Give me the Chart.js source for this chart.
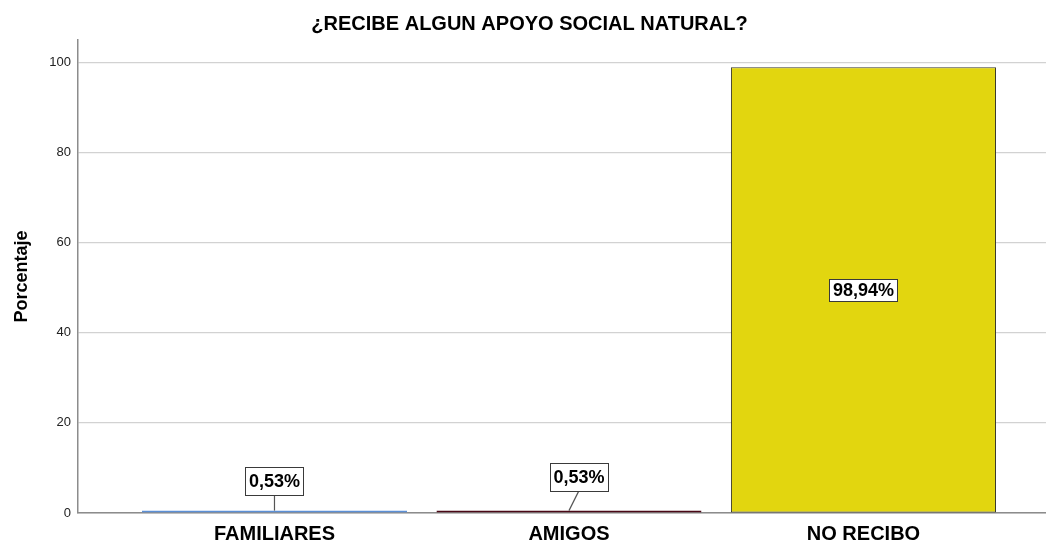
<!DOCTYPE html>
<html>
<head>
<meta charset="utf-8">
<script src="https://cdn.jsdelivr.net/npm/chart.js@4/dist/chart.umd.min.js"></script>
<style>
  html, body { margin: 0; padding: 0; background: #ffffff; }
  canvas { display: block; }
</style>
</head>
<body>
<canvas id="chart" width="1046" height="542"></canvas>
<script>
// Data
const CATEGORIES = ['FAMILIARES', 'AMIGOS', 'NO RECIBO'];
const PERCENTAGES = [0.53, 0.53, 98.94];
const Y_TICKS = [0, 20, 40, 60, 80, 100];
const TITLE = '¿RECIBE ALGUN APOYO SOCIAL NATURAL?';
const Y_TITLE = 'Porcentaje';

// Styling
const FONT = "'Liberation Sans', Arial, Helvetica, sans-serif";
const BAR_COLORS = ['#6399de', '#7a1027', '#e2d60f'];
const BAR_BORDERS = ['#5b8fd6', '#4a0816', '#3a3a2a'];

function formatPct(v) {
  return v.toFixed(2).replace('.', ',') + '%';
}

// Boxed value labels; bars too short to hold one get a label above with a leader line
const valueLabels = {
  id: 'valueLabels',
  afterDatasetsDraw(chart, args, opts) {
    const ctx = chart.ctx;
    const meta = chart.getDatasetMeta(0);
    const data = chart.data.datasets[0].data;
    ctx.save();
    ctx.font = 'bold 18px ' + FONT;
    ctx.textAlign = 'center';
    ctx.textBaseline = 'middle';
    meta.data.forEach((bar, i) => {
      const text = formatPct(data[i].y);
      const w = Math.round(ctx.measureText(text).width) + 7;
      const inside = (bar.base - bar.y) > 40;
      let cx, cy, h;
      if (inside) {
        cx = bar.x;
        cy = (bar.y + bar.base) / 2;
        h = 22;
      } else {
        const off = opts.offsets[i] || { dx: 0, dy: -30 };
        cx = bar.x + off.dx;
        cy = bar.y + off.dy;
        h = 28;
        ctx.strokeStyle = '#555555';
        ctx.lineWidth = 1.2;
        ctx.beginPath();
        ctx.moveTo(cx, cy + h / 2);
        ctx.lineTo(bar.x, bar.y);
        ctx.stroke();
      }
      const x0 = Math.round(cx - w / 2) + 0.5;
      const y0 = Math.round(cy - h / 2) + 0.5;
      ctx.fillStyle = '#ffffff';
      ctx.fillRect(x0, y0, w, h);
      ctx.strokeStyle = '#3a3a3a';
      ctx.lineWidth = 1;
      ctx.strokeRect(x0, y0, w, h);
      ctx.fillStyle = '#000000';
      ctx.fillText(text, cx, cy + 1);
    });
    ctx.restore();
  }
};

new Chart(document.getElementById('chart'), {
  type: 'bar',
  data: {
    datasets: [{
      data: CATEGORIES.map((c, i) => ({ x: i, y: PERCENTAGES[i] })),
      backgroundColor: BAR_COLORS,
      borderColor: BAR_BORDERS,
      borderWidth: 1,
      borderSkipped: false,
      barPercentage: 0.9,
      categoryPercentage: 1.0
    }]
  },
  options: {
    responsive: false,
    animation: false,
    devicePixelRatio: 1,
    layout: { padding: { left: 13, right: 0, top: 0, bottom: 0 } },
    plugins: {
      legend: { display: false },
      tooltip: { enabled: false },
      title: {
        display: true,
        text: TITLE,
        color: '#000000',
        font: { family: FONT, size: 20, weight: 'bold', lineHeight: 1.2 },
        padding: { top: 12, bottom: 4 }
      },
      valueLabels: {
        offsets: [{ dx: 0, dy: -30 }, { dx: 10, dy: -34 }, { dx: 0, dy: 0 }]
      }
    },
    scales: {
      x: {
        type: 'linear',
        offset: false,
        min: -0.6672,
        max: 2.6198,
        afterBuildTicks(scale) {
          scale.ticks = CATEGORIES.map((c, i) => ({ value: i }));
        },
        afterFit(scale) { scale.height = 29; },
        grid: { display: false, offset: false, drawTicks: false },
        border: { display: true, color: '#8c8c8c', width: 1.5 },
        ticks: {
          autoSkip: false,
          maxRotation: 0,
          padding: 9,
          color: '#000000',
          font: { family: FONT, size: 20, weight: 'bold' },
          callback: (v) => CATEGORIES[v] !== undefined ? CATEGORIES[v] : ''
        }
      },
      y: {
        min: 0,
        max: 105,
        afterBuildTicks(scale) {
          scale.ticks = Y_TICKS.map(v => ({ value: v }));
        },
        afterFit(scale) { scale.width = 65; },
        grid: { color: '#d2d2d2', lineWidth: 1.2, drawTicks: false },
        border: { display: true, color: '#8c8c8c', width: 1.5 },
        ticks: {
          padding: 7,
          color: '#222222',
          font: { family: FONT, size: 13 }
        },
        title: {
          display: true,
          text: Y_TITLE,
          color: '#000000',
          font: { family: FONT, size: 18, weight: 'bold', lineHeight: 1 },
          padding: { top: 0, bottom: 0 }
        }
      }
    }
  },
  plugins: [valueLabels]
});
</script>
</body>
</html>
